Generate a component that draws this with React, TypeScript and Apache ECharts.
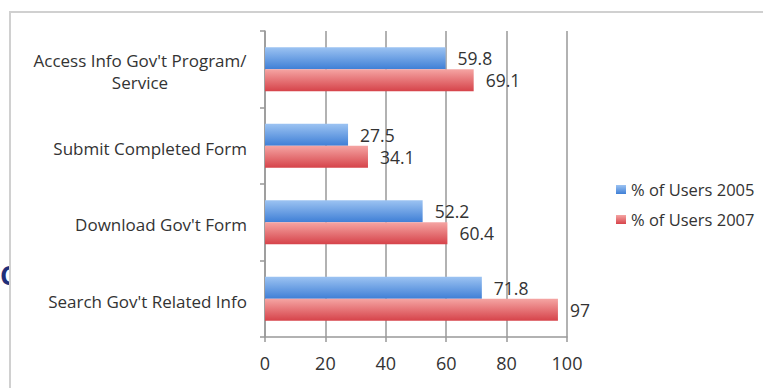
import React, { useEffect, useRef } from "react";
import * as echarts from "echarts";

const categories = [
  "Access Info Gov't Program/\nService",
  "Submit Completed Form",
  "Download Gov't Form",
  "Search Gov't Related Info",
];
const seriesNames = ["% of Users 2005", "% of Users 2007"];
const users2005 = [59.8, 27.5, 52.2, 71.8];
const users2007 = [69.1, 34.1, 60.4, 97];
const xTicks = [0, 20, 40, 60, 80, 100];

const FONT = "'Open Sans', sans-serif";

export default function App() {
  const ref = useRef<HTMLDivElement>(null);
  useEffect(() => {
    if (!ref.current) return;
    const chart = echarts.init(ref.current, undefined, { renderer: "svg" });
    const grad = (top: string, bottom: string) =>
      new echarts.graphic.LinearGradient(0, 0, 0, 1, [
        { offset: 0, color: top },
        { offset: 1, color: bottom },
      ]);
    const blue = grad("#9cc3f2", "#3f7fd6");
    const red = grad("#f5a5a3", "#d6434a");
    const labelStyle = {
      show: true,
      position: "right" as const,
      distance: 12,
      color: "#333",
      fontSize: 17.5,
      fontFamily: FONT,
      formatter: (p: any) => String(p.value),
    };
    chart.setOption({
      animation: false,
      textStyle: { fontFamily: FONT },
      graphic: [
        {
          type: "text",
          left: 0,
          top: 262,
          z: -10,
          style: { text: "C", fill: "#1f2f7a", font: "bold 26px 'Open Sans', sans-serif" },
          silent: true,
        },
        {
          type: "rect",
          z: -5,
          shape: { x: 10, y: 12, width: 800, height: 450 },
          style: { fill: "#fff", stroke: "#d0d0d0", lineWidth: 2 },
          silent: true,
        },
      ],
      legend: {
        orient: "vertical",
        left: 611,
        top: 176,
        itemWidth: 10,
        itemHeight: 9,
        itemGap: 13,
        icon: "rect",
        textStyle: { fontSize: 16.5, color: "#333", fontFamily: FONT },
        data: seriesNames,
      },
      grid: { left: 265, right: 196, top: 31, bottom: 51, containLabel: false },
      xAxis: {
        type: "value",
        min: 0,
        max: 100,
        interval: 20,
        axisLine: { show: true, lineStyle: { color: "#999", width: 1.5 } },
        axisTick: { show: true, length: 5, lineStyle: { color: "#999", width: 1.5 } },
        splitLine: { show: true, lineStyle: { color: "#999", width: 1.5 } },
        axisLabel: {
          margin: 17,
          fontSize: 18,
          color: "#333",
          fontFamily: FONT,
          formatter: (v: number) => (xTicks.includes(v) ? String(v) : ""),
        },
      },
      yAxis: {
        type: "category",
        inverse: true,
        data: categories,
        axisLine: { show: true, lineStyle: { color: "#999", width: 1.5 } },
        axisTick: { show: true, length: 5, lineStyle: { color: "#999", width: 1.5 } },
        axisLabel: {
          margin: 18,
          fontSize: 17,
          color: "#333",
          fontFamily: FONT,
          lineHeight: 22,
          padding: [5, 0, 0, 0],
          formatter: (v: string) =>
            v.includes("\n")
              ? v
                  .split("\n")
                  .map((s) => `{c|${s}}`)
                  .join("\n")
              : v,
          rich: {
            c: { width: 214, align: "center", fontSize: 17, color: "#333", fontFamily: FONT, lineHeight: 22 },
          },
        },
      },
      series: [
        {
          name: seriesNames[0],
          type: "bar",
          data: users2005,
          barWidth: 22,
          barGap: "0%",
          itemStyle: { color: blue },
          label: labelStyle,
        },
        {
          name: seriesNames[1],
          type: "bar",
          data: users2007,
          barWidth: 22,
          barGap: "0%",
          itemStyle: { color: red },
          label: labelStyle,
        },
      ],
    });
    return () => chart.dispose();
  }, []);
  return (
    <div
      ref={ref}
      style={{ position: "fixed", left: 0, top: 0, width: 763, height: 388, background: "#fff" }}
    />
  );
}
